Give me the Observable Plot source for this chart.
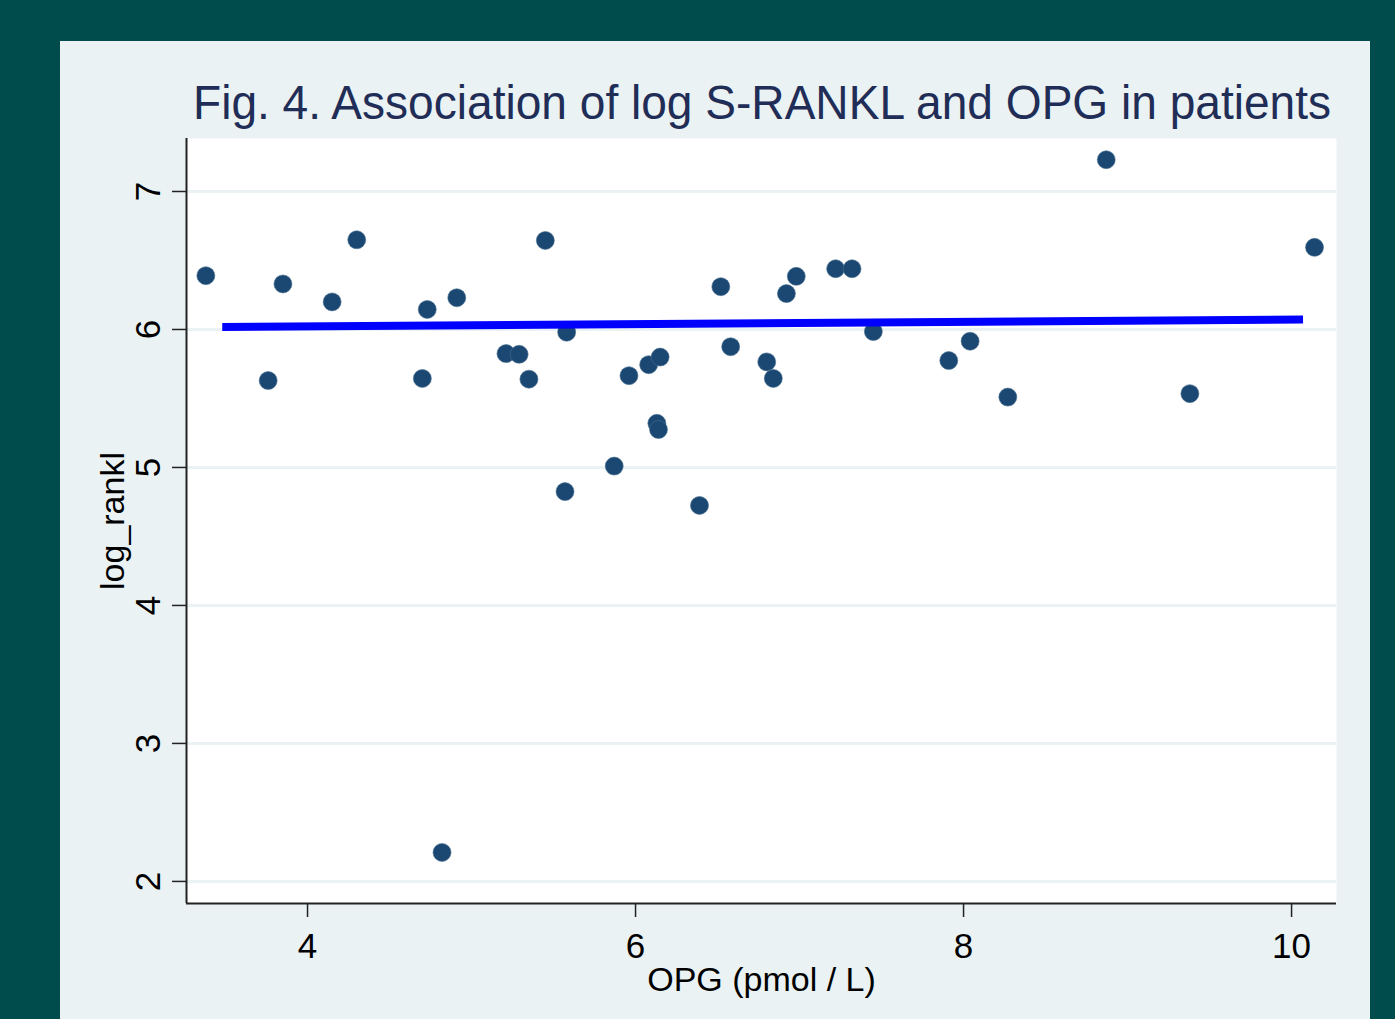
<!DOCTYPE html>
<html>
<head>
<meta charset="utf-8">
<script src="https://cdn.jsdelivr.net/npm/d3@7"></script>
<script src="https://cdn.jsdelivr.net/npm/@observablehq/plot@0.6"></script>
<style>
  html, body { margin: 0; padding: 0; background: #004b4b; width: 1395px; height: 1019px; overflow: hidden; }
  #panel { position: absolute; left: 60px; top: 41px; width: 1310px; height: 978px; background: #eaf2f3; }
  #title { position: absolute; left: 133px; top: 38px; font-family: "Liberation Sans", Arial, sans-serif; font-size: 48px; color: #1f2d57; white-space: nowrap; line-height: 1; transform: scaleX(0.96); transform-origin: 0 0; }
  #chart { position: absolute; left: 0; top: 84px; }
</style>
</head>
<body>
<div id="panel">
  <div id="title">Fig. 4. Association of log S-RANKL and OPG in patients</div>
  <div id="chart"></div>
</div>
<script>
// OPG (pmol / L) values of each patient
const opg = [3.38, 3.76, 3.85, 4.15, 4.30, 4.70, 4.73, 4.82, 4.91, 5.21, 5.29, 5.35, 5.45, 5.57, 5.58,
             5.87, 5.96, 6.08, 6.15, 6.13, 6.14, 6.39, 6.52, 6.58, 6.80, 6.84, 6.92, 6.98, 7.22, 7.32,
             7.45, 7.91, 8.04, 8.27, 8.87, 9.38, 10.14];
// log_rankl values of each patient
const logRankl = [6.39, 5.63, 6.33, 6.20, 6.65, 5.645, 6.145, 2.21, 6.23, 5.825, 5.82, 5.64, 6.645, 4.825, 5.98,
                  5.01, 5.665, 5.745, 5.80, 5.32, 5.275, 4.725, 6.31, 5.875, 5.765, 5.645, 6.26, 6.385, 6.44, 6.44,
                  5.985, 5.775, 5.915, 5.51, 7.23, 5.535, 6.595];
// fitted line end points
const fitX = [3.48, 10.07];
const fitY = [6.018, 6.072];
const xTicks = [4, 6, 8, 10];
const yTicks = [2, 3, 4, 5, 6, 7];
const xLabel = "OPG (pmol / L)";
const yLabel = "log_rankl";

const points = opg.map((x, i) => ({x, y: logRankl[i]}));
const fit = fitX.map((x, i) => ({x, y: fitY[i]}));

const font = "'Liberation Sans', Arial, sans-serif";

const chart = Plot.plot({
  width: 1310,
  height: 894,
  marginTop: 13,
  marginBottom: 116,
  marginLeft: 126,
  marginRight: 34,
  style: { background: "transparent", fontFamily: font, fontSize: "35px", color: "#000" },
  x: { domain: [3.262, 10.274], ticks: xTicks },
  y: { domain: [1.84, 7.384], ticks: yTicks },
  marks: [
    Plot.frame({ fill: "white", stroke: null }),
    Plot.gridY(yTicks, { stroke: "#eaf2f3", strokeWidth: 3, strokeOpacity: 1 }),
    Plot.axisX(xTicks, { tickSize: 14, tickFormat: () => "", label: null, stroke: "#222", strokeWidth: 1.5 }),
    Plot.axisY(yTicks, { tickSize: 14, tickFormat: () => "", label: null, stroke: "#222", strokeWidth: 1.5 }),
    Plot.ruleX([3.262], { stroke: "#222", strokeWidth: 2 }),
    Plot.ruleY([1.84], { stroke: "#222", strokeWidth: 2 }),
    Plot.text(xTicks, { x: d => d, frameAnchor: "bottom", dy: 54, lineAnchor: "bottom", text: d => String(d), fontSize: 35, fill: "#000" }),
    Plot.text(yTicks, { y: d => d, frameAnchor: "left", dx: -27, rotate: -90, textAnchor: "middle", lineAnchor: "bottom", text: d => String(d), fontSize: 35, fill: "#000" }),
    Plot.text([xLabel], { frameAnchor: "bottom", dy: 87, lineAnchor: "bottom", text: d => d, fontSize: 34, fill: "#000" }),
    Plot.text([yLabel], { frameAnchor: "left", dx: -63, rotate: -90, textAnchor: "middle", lineAnchor: "bottom", text: d => d, fontSize: 34, fill: "#000" }),
    Plot.dot(points, { x: "x", y: "y", r: 9, fill: "#1b4872", stroke: "#4a6f8f", strokeWidth: 0.6 }),
    Plot.line(fit, { x: "x", y: "y", stroke: "#0000ff", strokeWidth: 8, strokeLinecap: "butt" })
  ]
});
document.getElementById("chart").appendChild(chart);
</script>
</body>
</html>
